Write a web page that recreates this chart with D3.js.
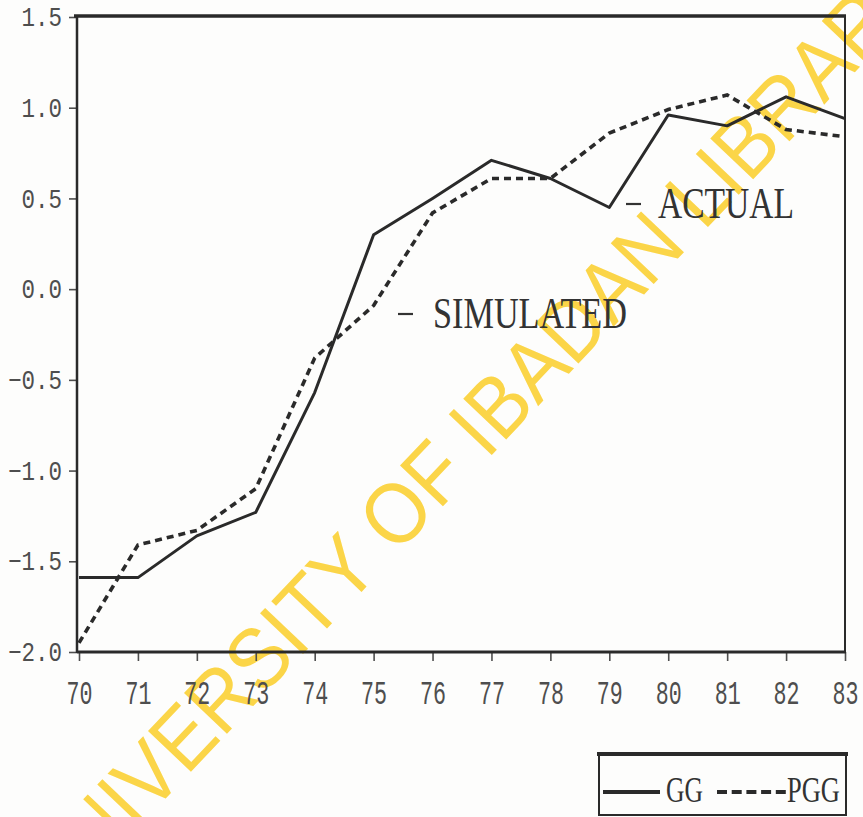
<!DOCTYPE html>
<html>
<head>
<meta charset="utf-8">
<script src="https://cdn.jsdelivr.net/npm/d3@7/dist/d3.min.js"></script>
<style>
  html, body { margin: 0; padding: 0; background: #fdfdfc; }
  svg { display: block; }
</style>
</head>
<body>
<svg id="chart" width="863" height="817"></svg>
<script>
// Years (19xx) on the horizontal axis
const years = [70, 71, 72, 73, 74, 75, 76, 77, 78, 79, 80, 81, 82, 83];
// GG: actual series
const actualGG = [-1.59, -1.59, -1.36, -1.23, -0.57, 0.30, 0.50, 0.71, 0.61, 0.45, 0.96, 0.90, 1.06, 0.94];
// PGG: simulated series
const simulatedPGG = [-1.95, -1.41, -1.33, -1.10, -0.38, -0.09, 0.42, 0.61, 0.61, 0.86, 0.99, 1.07, 0.88, 0.84];
// Vertical axis ticks
const yTickValues = [-2.0, -1.5, -1.0, -0.5, 0.0, 0.5, 1.0, 1.5];
const watermarkText = "UNIVERSITY OF IBADAN LIBRARY";

const svg = d3.select("#chart");
const ink = "#2a2a2a";
const tickInk = "#4e4e4e";

const frame = { left: 77, right: 845, top: 16, bottom: 652 };

const x = d3.scaleLinear().domain([70, 83]).range([79, 845]);
const y = d3.scaleLinear().domain([-2.0, 1.5]).range([652, 17]);

// Library watermark, drawn underneath everything else
svg.append("text")
  .attr("transform", "translate(474,430) rotate(-46.5)")
  .attr("text-anchor", "middle")
  .attr("dominant-baseline", "central")
  .attr("font-family", "Liberation Sans, Arial, sans-serif")
  .attr("font-size", 86)
  .attr("textLength", 1275)
  .attr("lengthAdjust", "spacingAndGlyphs")
  .attr("fill", "#fbd548")
  .text(watermarkText);

// Left axis
const yAxis = d3.axisLeft(y)
  .tickValues(yTickValues)
  .tickFormat(d3.format(".1f"))
  .tickSize(8)
  .tickPadding(5);

const gy = svg.append("g")
  .attr("transform", `translate(${frame.left},0)`)
  .call(yAxis);
gy.select(".domain").remove();
gy.selectAll(".tick line").attr("stroke", tickInk).attr("stroke-width", 1.6);
gy.selectAll(".tick text")
  .attr("font-family", "Liberation Mono, monospace")
  .attr("font-size", 27)
  .attr("fill", tickInk)
  .attr("x", -15)
  .each(function () {
    const t = d3.select(this);
    t.attr("textLength", t.text().length * 13.5).attr("lengthAdjust", "spacingAndGlyphs");
  });

// Bottom axis
const xAxis = d3.axisBottom(x)
  .tickValues(years)
  .tickFormat(d => String(d))
  .tickSize(9);

const gx = svg.append("g")
  .attr("transform", `translate(0,${frame.bottom})`)
  .call(xAxis);
gx.select(".domain").remove();
gx.selectAll(".tick line").attr("stroke", tickInk).attr("stroke-width", 1.6);
gx.selectAll(".tick text")
  .attr("font-family", "Liberation Mono, monospace")
  .attr("font-size", 34)
  .attr("fill", tickInk)
  .attr("y", 52)
  .attr("dy", 0)
  .attr("textLength", 26)
  .attr("lengthAdjust", "spacingAndGlyphs");

// Plot frame
const f = svg.append("g").attr("stroke", ink).attr("fill", "none");
f.append("line").attr("x1", frame.left - 3).attr("x2", frame.right + 1)
  .attr("y1", frame.top).attr("y2", frame.top).attr("stroke-width", 3.5);
f.append("line").attr("x1", frame.left).attr("x2", frame.left)
  .attr("y1", frame.top).attr("y2", frame.bottom + 1).attr("stroke-width", 2.5);
f.append("line").attr("x1", frame.left).attr("x2", frame.right + 1)
  .attr("y1", frame.bottom).attr("y2", frame.bottom).attr("stroke-width", 3);
f.append("line").attr("x1", frame.right).attr("x2", frame.right)
  .attr("y1", frame.top).attr("y2", frame.bottom).attr("stroke-width", 2);

// Series lines
const line = d3.line()
  .x((d, i) => x(years[i]))
  .y(d => y(d));

svg.append("path")
  .datum(actualGG)
  .attr("d", line)
  .attr("fill", "none")
  .attr("stroke", ink)
  .attr("stroke-width", 3)
  .attr("stroke-linejoin", "round");

svg.append("path")
  .datum(simulatedPGG)
  .attr("d", line)
  .attr("fill", "none")
  .attr("stroke", ink)
  .attr("stroke-width", 3.6)
  .attr("stroke-dasharray", "7,5");

// In-plot annotations
const serif = "Liberation Serif, Times New Roman, serif";
function annotate(dashX, textX, baseY, label, width) {
  svg.append("line")
    .attr("x1", dashX).attr("x2", dashX + 15)
    .attr("y1", baseY - 14).attr("y2", baseY - 14)
    .attr("stroke", "#333").attr("stroke-width", 2.2);
  svg.append("text")
    .attr("x", textX).attr("y", baseY)
    .attr("font-family", serif)
    .attr("font-size", 45)
    .attr("fill", "#333")
    .attr("textLength", width)
    .attr("lengthAdjust", "spacingAndGlyphs")
    .text(label);
}
annotate(626, 658, 218, "ACTUAL", 136);
annotate(398, 433, 328, "SIMULATED", 194);

// Legend
const lg = svg.append("g");
lg.append("line").attr("x1", 597).attr("x2", 848).attr("y1", 754).attr("y2", 754)
  .attr("stroke", ink).attr("stroke-width", 4);
lg.append("line").attr("x1", 599).attr("x2", 599).attr("y1", 754).attr("y2", 816)
  .attr("stroke", ink).attr("stroke-width", 2);
lg.append("line").attr("x1", 846).attr("x2", 846).attr("y1", 754).attr("y2", 816)
  .attr("stroke", ink).attr("stroke-width", 2);
lg.append("line").attr("x1", 599).attr("x2", 846).attr("y1", 815).attr("y2", 815)
  .attr("stroke", ink).attr("stroke-width", 2);

lg.append("line").attr("x1", 603).attr("x2", 660).attr("y1", 792).attr("y2", 792)
  .attr("stroke", ink).attr("stroke-width", 4);
lg.append("text").attr("x", 666).attr("y", 802)
  .attr("font-family", serif).attr("font-size", 35).attr("fill", "#333")
  .attr("textLength", 37).attr("lengthAdjust", "spacingAndGlyphs")
  .text("GG");
lg.append("line").attr("x1", 717).attr("x2", 786).attr("y1", 792).attr("y2", 792)
  .attr("stroke", ink).attr("stroke-width", 4).attr("stroke-dasharray", "10,4.7");
lg.append("text").attr("x", 787).attr("y", 802)
  .attr("font-family", serif).attr("font-size", 35).attr("fill", "#333")
  .attr("textLength", 53).attr("lengthAdjust", "spacingAndGlyphs")
  .text("PGG");
</script>
</body>
</html>
